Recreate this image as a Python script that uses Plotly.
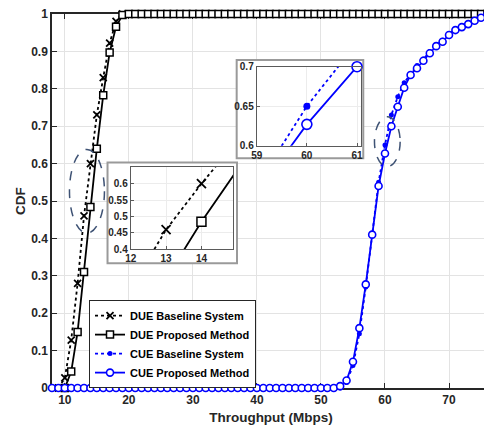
import plotly.graph_objects as go

# ---------------- data ----------------
due_base_x = list(range(9, 77))
due_base_cdf = [0.0, 0.027, 0.128, 0.28, 0.46, 0.60, 0.73, 0.83, 0.922, 0.98,
                1, 1, 1, 1, 1, 1, 1, 1, 1, 1, 1, 1, 1, 1, 1, 1, 1, 1, 1, 1,
                1, 1, 1, 1, 1, 1, 1, 1, 1, 1, 1, 1, 1, 1, 1, 1, 1, 1, 1, 1,
                1, 1, 1, 1, 1, 1, 1, 1, 1, 1, 1, 1, 1, 1, 1, 1, 1, 1]

due_prop_x = list(range(10, 77))
due_prop_cdf = [0.0, 0.044, 0.15, 0.31, 0.484, 0.64, 0.783, 0.897, 0.966, 0.997,
                1, 1, 1, 1, 1, 1, 1, 1, 1, 1, 1, 1, 1, 1, 1, 1, 1, 1, 1, 1,
                1, 1, 1, 1, 1, 1, 1, 1, 1, 1, 1, 1, 1, 1, 1, 1, 1, 1, 1, 1,
                1, 1, 1, 1, 1, 1, 1, 1, 1, 1, 1, 1, 1, 1, 1, 1, 1]

cue_x = list(range(8, 77))
cue_base_cdf = [0, 0, 0, 0, 0, 0, 0, 0, 0, 0, 0, 0, 0, 0, 0,
                0, 0, 0, 0, 0, 0, 0, 0, 0, 0, 0, 0, 0, 0, 0,
                0, 0, 0, 0, 0, 0, 0, 0, 0, 0, 0, 0, 0, 0, 0, 0,
                0.015, 0.06, 0.145, 0.27, 0.41, 0.55, 0.65, 0.73, 0.779, 0.816,
                0.84, 0.862, 0.88, 0.90, 0.917, 0.93, 0.947, 0.96, 0.968, 0.976,
                0.984, 0.992, 1.0]
cue_prop_cdf = [0, 0, 0, 0, 0, 0, 0, 0, 0, 0, 0, 0, 0, 0, 0,
                0, 0, 0, 0, 0, 0, 0, 0, 0, 0, 0, 0, 0, 0, 0,
                0, 0, 0, 0, 0, 0, 0, 0, 0, 0, 0, 0, 0, 0, 0,
                0.005, 0.02, 0.07, 0.16, 0.277, 0.41, 0.54, 0.627, 0.70, 0.752,
                0.803, 0.837, 0.855, 0.875, 0.895, 0.914, 0.926, 0.944, 0.957, 0.965,
                0.973, 0.982, 0.99, 1.0]

names = ["DUE Baseline System", "DUE Proposed Method",
         "CUE Baseline System", "CUE Proposed Method"]

x_ticks = [10, 20, 30, 40, 50, 60, 70]
y_ticks = [0, 0.1, 0.2, 0.3, 0.4, 0.5, 0.6, 0.7, 0.8, 0.9, 1]
y_ticktext = ["0", "0.1", "0.2", "0.3", "0.4", "0.5", "0.6", "0.7", "0.8", "0.9", "1"]

inset1_xticks = [12, 13, 14]
inset1_yticks = [0.4, 0.45, 0.5, 0.55, 0.6]
inset2_xticks = [59, 60, 61]
inset2_yticks = [0.6, 0.65, 0.7]

# ---------------- styling ----------------
FONT = "Liberation Sans, Arial, sans-serif"
DARK = "#262626"
BLUE = "#0000ff"


def due_traces(xa, ya, show, big):
    ms = 9 if big else 7
    return [
        go.Scatter(x=due_base_x, y=due_base_cdf, name=names[0], mode="lines+markers",
                   xaxis=xa, yaxis=ya, showlegend=show, cliponaxis=False,
                   line=dict(color="black", width=1.8, dash="dot"),
                   marker=dict(symbol="x-thin", size=ms,
                               line=dict(color="black", width=1.8))),
        go.Scatter(x=due_prop_x, y=due_prop_cdf, name=names[1], mode="lines+markers",
                   xaxis=xa, yaxis=ya, showlegend=show, cliponaxis=False,
                   line=dict(color="black", width=1.8),
                   marker=dict(symbol="square", size=ms, color="white",
                               line=dict(color="black", width=1.5))),
    ]


def cue_traces(xa, ya, show, big):
    ms = 10 if big else 7
    ds = 7 if big else 5
    return [
        go.Scatter(x=cue_x, y=cue_base_cdf, name=names[2], mode="lines+markers",
                   xaxis=xa, yaxis=ya, showlegend=show, cliponaxis=False,
                   line=dict(color=BLUE, width=1.8, dash="dot"),
                   marker=dict(symbol="circle", size=ds, color=BLUE)),
        go.Scatter(x=cue_x, y=cue_prop_cdf, name=names[3], mode="lines+markers",
                   xaxis=xa, yaxis=ya, showlegend=show, cliponaxis=False,
                   line=dict(color=BLUE, width=1.8),
                   marker=dict(symbol="circle", size=ms, color="white",
                               line=dict(color=BLUE, width=1.6))),
    ]


fig = go.Figure()
for t in due_traces("x", "y", True, False) + cue_traces("x", "y", True, False):
    fig.add_trace(t)
for t in due_traces("x2", "y2", False, True):
    fig.add_trace(t)
for t in cue_traces("x3", "y3", False, True):
    fig.add_trace(t)

tick_font = dict(family=FONT, size=12, color=DARK, weight="bold")
inset_font = dict(family=FONT, size=10, color=DARK, weight="bold")

main_axis = dict(showline=True, linecolor=DARK, linewidth=1.5, mirror="ticks",
                 ticks="inside", ticklen=5, tickwidth=1.2, tickcolor=DARK,
                 showgrid=True, gridcolor="#e3e3e3", gridwidth=1,
                 zeroline=False, tickfont=tick_font, layer="below traces",
                 automargin=False, ticklabeloverflow="allow")

inset_axis = dict(showline=True, linecolor="#5a5a5a", linewidth=1, mirror=True,
                  ticks="inside", ticklen=3, tickcolor="#5a5a5a",
                  showgrid=True, gridcolor="#ececec", zeroline=False,
                  tickfont=inset_font, automargin=False)

# the page body adds an 8px offset, so the figure is 8px smaller on each side
fig.update_layout(
    width=484, height=417,
    margin=dict(l=44, r=2, t=6, b=37, autoexpand=False),
    paper_bgcolor="white", plot_bgcolor="white",
    font=dict(family=FONT, color=DARK),
    xaxis=dict(range=[8, 76.4], tickvals=x_ticks, domain=[0, 1],
               title=dict(text="Throughput (Mbps)", standoff=8,
                          font=dict(family=FONT, size=13.5, color=DARK, weight="bold")),
               **main_axis),
    yaxis=dict(range=[0, 1], tickvals=y_ticks, ticktext=y_ticktext, domain=[0, 1],
               title=dict(text="CDF", standoff=2,
                          font=dict(family=FONT, size=13.5, color=DARK, weight="bold")),
               **main_axis),
    xaxis2=dict(range=[12, 14.9], tickvals=inset1_xticks, anchor="y2",
                domain=[0.1797, 0.4139], **inset_axis),
    yaxis2=dict(range=[0.4, 0.65], tickvals=inset1_yticks, anchor="x2",
                domain=[0.3709, 0.5901], **inset_axis),
    xaxis3=dict(range=[59, 61.08], tickvals=inset2_xticks, anchor="y3",
                domain=[0.4674, 0.7055], **inset_axis),
    yaxis3=dict(range=[0.6, 0.7], tickvals=inset2_yticks, anchor="x3",
                domain=[0.6479, 0.8591], **inset_axis),
    legend=dict(x=0.0845, y=0.235, xanchor="left", yanchor="top",
                bgcolor="white", bordercolor=DARK, borderwidth=1,
                font=dict(family=FONT, size=11, color="black", weight="bold"),
                tracegroupgap=0, itemwidth=30),
    showlegend=True,
)

# inset frames (white panels with grey border), placed in main-axis units
fig.add_shape(type="rect", xref="x", yref="y",
              x0=16.67, x1=36.89, y0=0.3334, y1=0.6029,
              fillcolor="white", line=dict(color="#9a9a9a", width=2), layer="between")
fig.add_shape(type="rect", xref="x", yref="y",
              x0=36.84, x1=56.61, y0=0.6142, y1=0.8770,
              fillcolor="white", line=dict(color="#9a9a9a", width=2), layer="between")

# dashed ellipses marking the zoomed regions
fig.add_shape(type="circle", xref="x", yref="y", x0=10.73, x1=16.19, y0=0.414, y1=0.638,
              line=dict(color="#3e5274", width=1.5, dash="dash"), layer="above")
fig.add_shape(type="circle", xref="x", yref="y", x0=58.36, x1=62.37, y0=0.592, y1=0.725,
              line=dict(color="#3e5274", width=1.5, dash="dash"), layer="above")

fig.write_html("out.html")
